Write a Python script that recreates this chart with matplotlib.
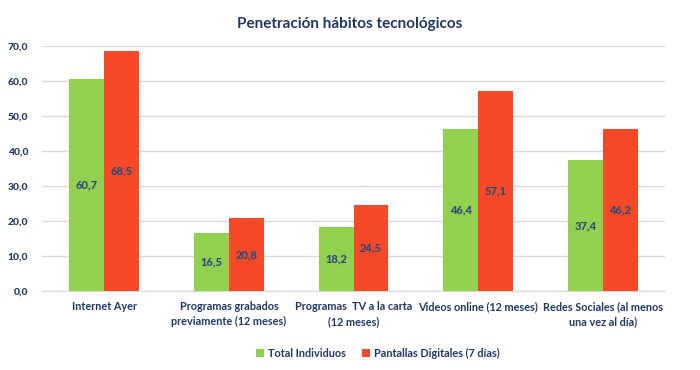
import numpy as np
import matplotlib.pyplot as plt

# =============================
# DATA
# =============================

categories = [
    "Internet Ayer",
    "Programas grabados\npreviamente (12 meses)",
    "Programas  TV a la carta\n(12 meses)",
    "Videos online (12 meses)",
    "Redes Sociales (al menos\nuna vez al día)",
]
total_individuos = [60.7, 16.5, 18.2, 46.4, 37.4]
pantallas_digitales = [68.5, 20.8, 24.5, 57.1, 46.2]
series_names = ["Total Individuos", "Pantallas Digitales (7 días)"]
y_ticks = [0, 10, 20, 30, 40, 50, 60, 70]

GREEN = "#92D050"
RED = "#F54927"
TEXT = "#1F3864"
LABEL = "#2E4A7A"

plt.rcParams["font.family"] = ["Lato", "DejaVu Sans"]

fig = plt.figure(figsize=(7, 3.7), dpi=100)
ax = fig.add_axes([0.06, 0.2135, 0.89, 0.662])

x = np.arange(len(categories))
w = 0.28

b1 = ax.bar(x - w / 2, total_individuos, w, color=GREEN, label=series_names[0], zorder=3)
b2 = ax.bar(x + w / 2, pantallas_digitales, w, color=RED, label=series_names[1], zorder=3)

for bars in (b1, b2):
    for rect in bars:
        h = rect.get_height()
        ax.text(rect.get_x() + rect.get_width() / 2, h / 2,
                f"{h:.1f}".replace(".", ","), ha="center", va="center",
                fontsize=8, fontweight="black", color=LABEL, zorder=4)

ax.set_xlim(-0.5, len(categories) - 0.5)
ax.set_ylim(0, 70)
ax.set_yticks(y_ticks)
ax.set_yticklabels([f"{v:.1f}".replace(".", ",") for v in y_ticks],
                   fontsize=7.5, fontweight="black", color=TEXT)
ax.set_xticks(x)
ax.set_xticklabels(categories, fontsize=7.8, fontweight="bold", color=TEXT,
                   linespacing=1.5)
ax.tick_params(axis="both", length=0, pad=7)
ax.tick_params(axis="y", pad=10)

ax.grid(axis="y", color="#D9D9D9", linewidth=1, zorder=0)
for side in ("top", "right", "left"):
    ax.spines[side].set_visible(False)
ax.spines["bottom"].set_color("#D9D9D9")

fig.text(0.5, 0.935, "Penetración hábitos tecnológicos", ha="center", va="center",
         fontsize=11, fontweight="bold", color=TEXT)

leg = fig.legend(loc="center", bbox_to_anchor=(0.54, 0.045), ncol=2, frameon=False,
                 fontsize=7.8, handlelength=0.7, handleheight=0.7, handletextpad=0.4,
                 columnspacing=1.5)
for t in leg.get_texts():
    t.set_color(TEXT)
    t.set_fontweight("bold")

fig.savefig("out.png", dpi=100)
